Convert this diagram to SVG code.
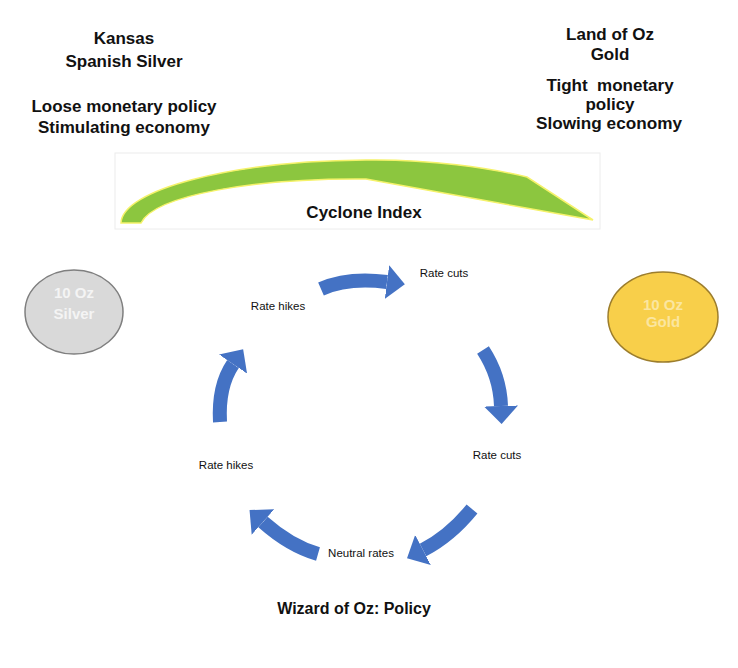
<svg xmlns="http://www.w3.org/2000/svg" width="738" height="668" viewBox="0 0 738 668">
<style>
.hd{font-family:"Liberation Sans",Arial,sans-serif;font-weight:bold;font-size:17px;fill:#111;text-anchor:middle}
.lb{font-family:"Liberation Sans",Arial,sans-serif;font-size:11.5px;fill:#111;text-anchor:middle}
.coin{font-family:"Liberation Sans",Arial,sans-serif;font-weight:bold;font-size:15px;text-anchor:middle}
.arr{fill:none;stroke:#4472c4;stroke-width:14}
</style>
<defs>
<marker id="ah" markerUnits="userSpaceOnUse" markerWidth="18" markerHeight="34" refX="0" refY="17" orient="auto" viewBox="0 0 18 34">
<path d="M0,0 L18,17 L0,34 Z" fill="#4472c4"/>
</marker>
</defs>
<rect width="738" height="668" fill="#fff"/>
<g id="kansas">
<text class="hd" x="124" y="44">Kansas</text>
<text class="hd" x="124" y="67">Spanish Silver</text>
<text class="hd" x="124" y="112">Loose monetary policy</text>
<text class="hd" x="124" y="133">Stimulating economy</text>
</g>
<g id="oz">
<text class="hd" x="610" y="40">Land of Oz</text>
<text class="hd" x="610" y="60">Gold</text>
<text class="hd" x="610" y="91" xml:space="preserve">Tight  monetary</text>
<text class="hd" x="610" y="110">policy</text>
<text class="hd" x="609" y="129" textLength="146" lengthAdjust="spacingAndGlyphs">Slowing economy</text>
</g>
<g id="cyclone">
<rect x="115" y="153" width="485" height="76" fill="#fff" stroke="#ececec" stroke-width="1"/>
<path d="M121,223 C122,190 230,161 366,160 C430,159 490,168 527,177 L593,220 L366,179 C255,178 155,195 141,223 Z" fill="#8cc63f" stroke="#f5f26a" stroke-width="1.5"/>
<text class="hd" x="364" y="218">Cyclone Index</text>
</g>
<g id="silver">
<ellipse cx="74" cy="312" rx="49" ry="42" fill="#d9d9d9" stroke="#7f7f7f" stroke-width="1.5"/>
<text class="coin" x="74" y="298" fill="#f4f4f4">10 Oz</text>
<text class="coin" x="74" y="319" fill="#f4f4f4">Silver</text>
</g>
<g id="gold">
<ellipse cx="663" cy="317" rx="55" ry="45" fill="#f8cf4a" stroke="#9c7d2c" stroke-width="1.5"/>
<text class="coin" x="663" y="310" fill="#fbe6a0">10 Oz</text>
<text class="coin" x="663" y="327" fill="#fbe6a0">Gold</text>
</g>
<g id="connectors">
<path class="arr" d="M321,289 Q348,277 387,282" marker-end="url(#ah)"/>
<path class="arr" d="M483,350 Q500,376 501,406" marker-end="url(#ah)"/>
<path class="arr" d="M220,422 Q218,386 233,364" marker-end="url(#ah)"/>
<path class="arr" d="M472,509 Q450,536 423,550" marker-end="url(#ah)"/>
<path class="arr" d="M318,554 Q290,546 263,522" marker-end="url(#ah)"/>
</g>
<g id="labels">
<text class="lb" x="444" y="277">Rate cuts</text>
<text class="lb" x="278" y="310">Rate hikes</text>
<text class="lb" x="497" y="459">Rate cuts</text>
<text class="lb" x="226" y="469">Rate hikes</text>
<text class="lb" x="361" y="557">Neutral rates</text>
<text class="hd" x="354" y="614" style="font-size:16px">Wizard of Oz: Policy</text>
</g>
</svg>
